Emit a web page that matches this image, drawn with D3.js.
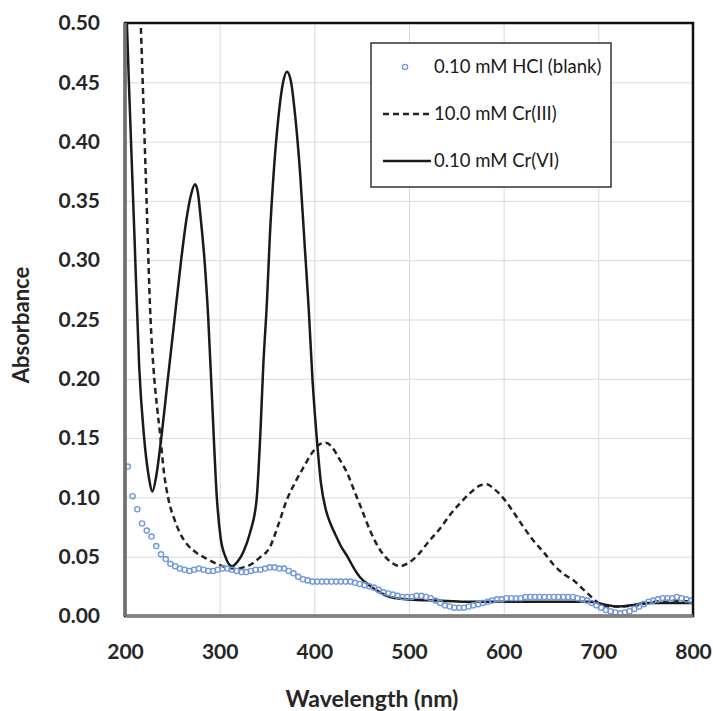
<!DOCTYPE html>
<html>
<head>
<meta charset="utf-8">
<script src="https://cdn.jsdelivr.net/npm/d3@7"></script>
<style>
    body { margin: 0; background: #fff; }
    svg { display: block; font-family: Lato, "Open Sans", sans-serif; }
</style>
</head>
<body>
<svg id="visualization" width="713" height="711"></svg>
<script>
// blank (0.10 mM HCl): one marker roughly every 5 nm
const blankNm = d3.range(203, 800, 5);
const blankAbs = [
    0.126, 0.101, 0.090, 0.078, 0.072, 0.067, 0.059, 0.052, 0.048, 0.044,
    0.042, 0.040, 0.039, 0.038, 0.039, 0.040, 0.039, 0.038, 0.038, 0.039,
    0.040, 0.040, 0.039, 0.038, 0.037, 0.037, 0.038, 0.039, 0.039, 0.040,
    0.041, 0.041, 0.040, 0.040, 0.038, 0.036, 0.033, 0.031, 0.030, 0.029,
    0.029, 0.029, 0.029, 0.029, 0.029, 0.029, 0.029, 0.029, 0.028, 0.027,
    0.026, 0.025, 0.024, 0.022, 0.020, 0.019, 0.018, 0.017, 0.016, 0.016,
    0.016, 0.017, 0.017, 0.016, 0.015, 0.013, 0.011, 0.009, 0.008, 0.007,
    0.007, 0.007, 0.008, 0.009, 0.010, 0.011, 0.012, 0.013, 0.014, 0.014,
    0.015, 0.015, 0.015, 0.015, 0.016, 0.016, 0.016, 0.016, 0.016, 0.016,
    0.016, 0.016, 0.016, 0.016, 0.016, 0.015, 0.014, 0.013, 0.011, 0.009,
    0.007, 0.005, 0.004, 0.003, 0.002, 0.003, 0.004, 0.006, 0.008, 0.010,
    0.012, 0.013, 0.014, 0.015, 0.015, 0.015, 0.016, 0.015, 0.014, 0.013
];

// 10.0 mM Cr(III)
const cr3Nm = [213, 216.6, 222, 227, 230, 234, 237, 241, 246, 252, 258, 266, 276, 287, 297, 307, 318, 325, 332, 342,
    353, 362, 371, 380, 389, 398, 406, 412, 418, 426, 435, 442, 449, 460, 470, 480, 490, 500, 510, 520,
    533, 545, 555, 565, 575, 582, 590, 600, 610, 621, 632, 643, 653, 664, 674, 682, 690, 700, 710, 720,
    740, 760, 780, 800];
const cr3Abs = [0.58, 0.50, 0.37, 0.25, 0.21, 0.175, 0.154, 0.122, 0.098, 0.082, 0.070, 0.060, 0.053, 0.048, 0.044, 0.041, 0.040, 0.041, 0.043, 0.049,
    0.058, 0.077, 0.098, 0.113, 0.126, 0.138, 0.145, 0.146, 0.143, 0.133, 0.120, 0.106, 0.092, 0.070, 0.055, 0.046, 0.042, 0.045, 0.052, 0.062,
    0.074, 0.087, 0.096, 0.104, 0.110, 0.111, 0.107, 0.099, 0.088, 0.075, 0.063, 0.053, 0.043, 0.035, 0.030, 0.024, 0.018, 0.011, 0.008, 0.008,
    0.009, 0.012, 0.013, 0.012];

// 0.10 mM Cr(VI)
const cr6Nm = [200, 202, 205, 210, 215, 220, 225, 229, 233, 238, 245, 252, 259, 265, 270, 274, 277, 280, 284,
    288, 292, 297, 301, 306, 313, 319, 325, 332, 339, 343, 346, 350, 353, 357, 362, 367, 371, 375, 380,
    385, 390, 394, 398, 403, 407, 412, 417, 422, 428, 435, 442, 449, 458, 467, 480, 500, 530, 560, 600,
    650, 690, 705, 720, 735, 750, 780, 800];
const cr6Abs = [0.56, 0.50, 0.43, 0.32, 0.21, 0.152, 0.118, 0.105, 0.118, 0.148, 0.198, 0.248, 0.298, 0.335, 0.356, 0.364, 0.357, 0.335, 0.30,
    0.25, 0.182, 0.10, 0.066, 0.05, 0.042, 0.046, 0.054, 0.07, 0.098, 0.154, 0.21, 0.266, 0.32, 0.373, 0.42, 0.45, 0.459, 0.452, 0.42,
    0.373, 0.31, 0.26, 0.20, 0.146, 0.112, 0.09, 0.078, 0.069, 0.059, 0.05, 0.04, 0.032, 0.026, 0.021, 0.016, 0.014, 0.013, 0.012, 0.012,
    0.012, 0.012, 0.010, 0.008, 0.009, 0.011, 0.011, 0.011];

const xTicks = [200, 300, 400, 500, 600, 700, 800];
const yTicks = [0, 0.05, 0.10, 0.15, 0.20, 0.25, 0.30, 0.35, 0.40, 0.45, 0.50];
const legendLabels = ["0.10 mM HCl (blank)", "10.0 mM Cr(III)", "0.10 mM Cr(VI)"];

const setupVisualization = () => {
    const margin = { top: 23, right: 20, bottom: 95, left: 125 };
    const width = 713 - margin.left - margin.right;
    const height = 711 - margin.top - margin.bottom;

    const xScale = d3.scaleLinear().domain([200, 800]).range([0, width]);
    const yScale = d3.scaleLinear().domain([0, 0.5]).range([height, 0]);

    const svg = d3.select("#visualization");
    const chart = svg.append("g")
        .attr("transform", `translate(${margin.left}, ${margin.top})`);

    chart.append("clipPath").attr("id", "plotClip")
        .append("rect").attr("width", width).attr("height", height);

    // gridlines
    chart.append("g")
        .call(d3.axisBottom(xScale).tickValues(xTicks).tickSize(-height).tickFormat(""))
        .attr("transform", `translate(0, ${height})`)
        .call(g => g.select(".domain").remove())
        .selectAll("line").attr("stroke", "#d9d9d9");
    chart.append("g")
        .call(d3.axisLeft(yScale).tickValues(yTicks).tickSize(-width).tickFormat(""))
        .call(g => g.select(".domain").remove())
        .selectAll("line").attr("stroke", "#d9d9d9");

    // tick labels
    chart.append("g")
        .attr("transform", `translate(0, ${height})`)
        .call(d3.axisBottom(xScale).tickValues(xTicks).tickSize(0).tickPadding(28))
        .call(g => g.select(".domain").remove())
        .selectAll("text")
        .attr("font-family", "Lato, sans-serif").attr("font-size", 21).attr("font-weight", "bold").attr("fill", "#262626");
    chart.append("g")
        .call(d3.axisLeft(yScale).tickValues(yTicks).tickSize(0).tickPadding(25).tickFormat(d3.format(".2f")))
        .call(g => g.select(".domain").remove())
        .selectAll("text")
        .attr("font-family", "Lato, sans-serif").attr("font-size", 21).attr("font-weight", "bold").attr("fill", "#262626");

    const lines = chart.append("g").attr("clip-path", "url(#plotClip)");
    const line = d3.line()
        .x(d => xScale(d[0]))
        .y(d => yScale(d[1]))
        .curve(d3.curveMonotoneX);

    lines.append("path")
        .datum(d3.zip(cr3Nm, cr3Abs))
        .attr("d", line)
        .attr("fill", "none")
        .attr("stroke", "#222")
        .attr("stroke-width", 2.5)
        .attr("stroke-dasharray", "6,4");

    lines.append("path")
        .datum(d3.zip(cr6Nm, cr6Abs))
        .attr("d", line)
        .attr("fill", "none")
        .attr("stroke", "#1a1a1a")
        .attr("stroke-width", 2.5);

    lines.selectAll(".blank")
        .data(d3.zip(blankNm, blankAbs))
        .join("circle")
        .attr("class", "blank")
        .attr("cx", d => xScale(d[0]))
        .attr("cy", d => yScale(d[1]))
        .attr("r", 2.6)
        .attr("fill", "none")
        .attr("stroke", "#7197dd")
        .attr("stroke-width", 1.4);

    // frame: dark border, grey axis lines
    chart.append("rect")
        .attr("width", width).attr("height", height)
        .attr("fill", "none").attr("stroke", "#111").attr("stroke-width", 2.5);
    chart.append("line")
        .attr("x1", 0).attr("x2", width).attr("y1", height).attr("y2", height)
        .attr("stroke", "#7f7f7f").attr("stroke-width", 3.5);
    chart.append("line")
        .attr("x1", 0).attr("x2", 0).attr("y1", 0).attr("y2", height)
        .attr("stroke", "#6f6f6f").attr("stroke-width", 3.5);

    // axis titles
    svg.append("text")
        .attr("x", 372).attr("y", 707)
        .attr("text-anchor", "middle")
        .attr("font-size", 23).attr("font-weight", "bold").attr("fill", "#262626")
        .text("Wavelength (nm)");
    svg.append("text")
        .attr("transform", "translate(29, 325) rotate(-90)")
        .attr("text-anchor", "middle")
        .attr("font-size", 22).attr("font-weight", "bold").attr("fill", "#262626")
        .text("Absorbance");

    // legend
    const legend = svg.append("g").attr("transform", "translate(371, 43)");
    legend.append("rect")
        .attr("width", 240).attr("height", 144)
        .attr("fill", "#fff").attr("stroke", "#333").attr("stroke-width", 1.5);
    const rowY = [24, 71, 118];
    legend.append("circle")
        .attr("cx", 34).attr("cy", rowY[0]).attr("r", 2.6)
        .attr("fill", "none").attr("stroke", "#7197dd").attr("stroke-width", 1.4);
    legend.append("line")
        .attr("x1", 12).attr("x2", 60).attr("y1", rowY[1]).attr("y2", rowY[1])
        .attr("stroke", "#222").attr("stroke-width", 2.5).attr("stroke-dasharray", "6,4");
    legend.append("line")
        .attr("x1", 12).attr("x2", 60).attr("y1", rowY[2]).attr("y2", rowY[2])
        .attr("stroke", "#1a1a1a").attr("stroke-width", 2.5);
    legend.selectAll(".legend-label")
        .data(legendLabels)
        .join("text")
        .attr("class", "legend-label")
        .attr("x", 63)
        .attr("y", (d, i) => rowY[i])
        .attr("dy", "0.35em")
        .attr("font-size", 18.5)
        .attr("fill", "#1a1a1a")
        .text(d => d);
};

setupVisualization();
</script>
</body>
</html>
